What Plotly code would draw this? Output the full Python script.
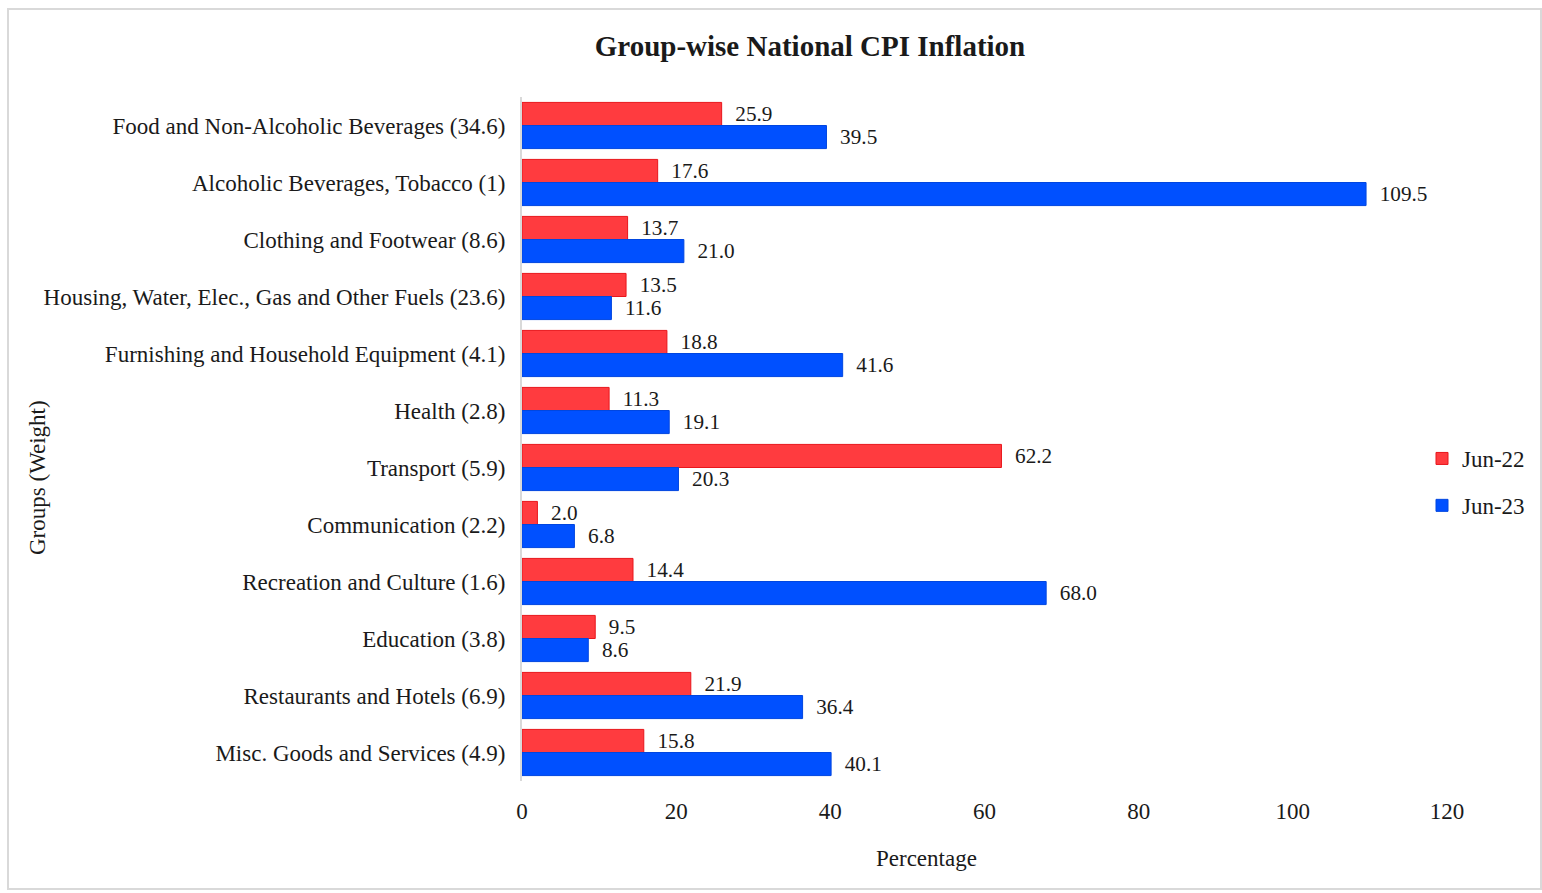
import plotly.graph_objects as go

categories = [
    "Food and Non-Alcoholic Beverages (34.6)",
    "Alcoholic Beverages, Tobacco (1)",
    "Clothing and Footwear (8.6)",
    "Housing, Water, Elec., Gas and Other Fuels (23.6)",
    "Furnishing and Household Equipment (4.1)",
    "Health (2.8)",
    "Transport (5.9)",
    "Communication (2.2)",
    "Recreation and Culture (1.6)",
    "Education (3.8)",
    "Restaurants and Hotels (6.9)",
    "Misc. Goods and Services (4.9)",
]
jun22 = [25.9, 17.6, 13.7, 13.5, 18.8, 11.3, 62.2, 2.0, 14.4, 9.5, 21.9, 15.8]
jun23 = [39.5, 109.5, 21.0, 11.6, 41.6, 19.1, 20.3, 6.8, 68.0, 8.6, 36.4, 40.1]
tick_vals = [0, 20, 40, 60, 80, 100, 120]

FONT = "Liberation Serif"
TXT = "#1a1a1a"
FS = 23
PAD = "\u00a0\u00a0"

fig = go.Figure()
fig.add_trace(go.Bar(
    y=categories, x=jun22, name="Jun-22", orientation="h",
    marker=dict(color="#FF3B3F", line=dict(color="#E8161C", width=1)),
    text=[PAD + f"{v:.1f}" for v in jun22], textposition="outside",
    textfont=dict(family=FONT, size=FS, color=TXT), cliponaxis=False,
    legendgroup="a",
))
fig.add_trace(go.Bar(
    y=categories, x=jun23, name="Jun-23", orientation="h",
    marker=dict(color="#0050FF", line=dict(color="#0046E0", width=1)),
    text=[PAD + f"{v:.1f}" for v in jun23], textposition="outside",
    textfont=dict(family=FONT, size=FS, color=TXT), cliponaxis=False,
    legendgroup="b",
))

L, R, T, B = 522, 95, 97, 112
W, H = 1542, 893
pw = W - L - R
ph = H - T - B

def px2x(px):
    return (px - L) / pw

def py2y(py):
    return (H - B - py) / ph

fig.update_layout(
    width=W, height=H,
    margin=dict(l=L, r=R, t=T, b=B, autoexpand=False),
    paper_bgcolor="white", plot_bgcolor="white",
    barmode="group", bargap=0.19, bargroupgap=0,
    font=dict(family=FONT, color=TXT, size=FS),
    title=dict(text="<b>Group-wise National CPI Inflation</b>",
               font=dict(family=FONT, size=29, color=TXT),
               x=810 / W, xanchor="center", y=1 - 46 / H, yanchor="middle"),
    xaxis=dict(range=[0, 120], tickvals=tick_vals, showgrid=False, zeroline=False,
               showline=False, ticks="", tickfont=dict(size=FS),
               ticklabelstandoff=14),
    yaxis=dict(autorange="reversed", showgrid=False, zeroline=False,
               showline=True, linecolor="#D9D9D9", linewidth=2, ticks="",
               ticklabelstandoff=10, tickfont=dict(size=FS)),
    legend=dict(x=px2x(1422), xanchor="left", y=py2y(482), yanchor="middle",
                font=dict(size=FS), traceorder="grouped", tracegroupgap=14,
                bgcolor="rgba(0,0,0,0)", itemwidth=30),
    showlegend=True,
    annotations=[
        dict(text="Groups (Weight)", textangle=-90, showarrow=False,
             xref="paper", yref="paper", x=px2x(37), y=py2y(478),
             xanchor="center", yanchor="middle",
             font=dict(family=FONT, size=FS, color=TXT)),
        dict(text="Percentage", showarrow=False,
             xref="paper", yref="paper", x=px2x(926), y=py2y(858),
             xanchor="center", yanchor="middle",
             font=dict(family=FONT, size=FS, color=TXT)),
    ],
    shapes=[dict(type="rect", xref="paper", yref="paper",
                 x0=px2x(8), x1=px2x(1541), y0=py2y(889), y1=py2y(9),
                 line=dict(color="#D9D9D9", width=2), fillcolor="rgba(0,0,0,0)",
                 layer="below")],
)

fig.write_html("out.html", config={"displayModeBar": False},
               post_script="document.body.style.margin='0';document.body.style.overflow='hidden';")
